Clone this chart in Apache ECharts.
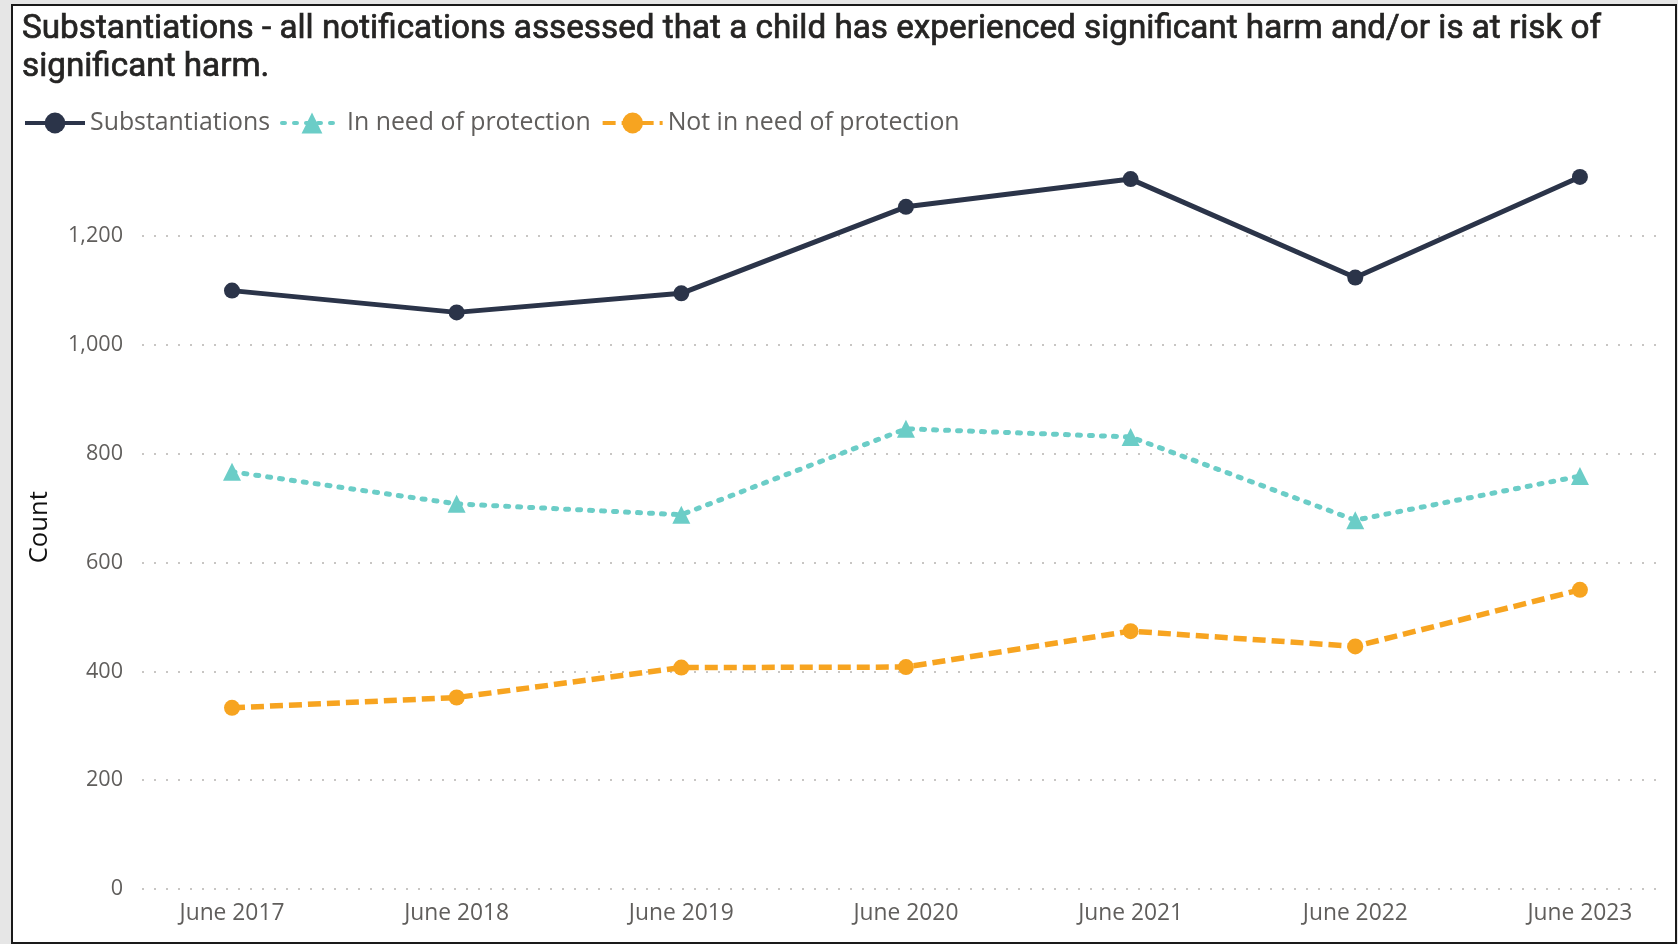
<!DOCTYPE html>
<html><head><meta charset="utf-8">
<script src="https://cdn.jsdelivr.net/npm/echarts@6/dist/echarts.min.js"></script>
<style>
html,body{margin:0;padding:0;background:#e6e6e6;width:1678px;height:944px;overflow:hidden;}
#frame{position:absolute;left:11px;top:4px;width:1662px;height:936px;border:2px solid #1a1a1a;background:#fff;}
#chart{position:absolute;left:0;top:0;width:1678px;height:944px;}
</style></head><body><div id="frame"></div><div id="chart"></div>
<script>
// ---- data ----
const categories = ['June 2017', 'June 2018', 'June 2019', 'June 2020', 'June 2021', 'June 2022', 'June 2023'];
const substantiations = [1100, 1060, 1095, 1254, 1305, 1124, 1309];
const inNeedOfProtection = [767, 708, 688, 846, 831, 678, 759];
const notInNeedOfProtection = [333, 352, 407, 408, 474, 446, 550];
const seriesNames = ['Substantiations', 'In need of protection', 'Not in need of protection'];
const yTickStep = 200;
const titleLines = ['Substantiations - all notifications assessed that a child has experienced significant harm and/or is at risk of', 'significant harm.'];
const yAxisTitle = 'Count';

// ---- text fitting helper ----
const ctx = document.createElement('canvas').getContext('2d');
function fit(text, family, target, weight) {
  ctx.font = (weight || 'normal') + ' 100px ' + family;
  return 100 * target / ctx.measureText(text).width;
}
const TITLE_FONT = 'Roboto';
const UI_FONT = '"Open Sans"';
const titleSize = fit(titleLines[0], TITLE_FONT, 1580);
const legendSize = fit(seriesNames.join(''), UI_FONT, 177 + 245 + 294);
const xLabelSize = fit(categories[0], UI_FONT, 105);
const yLabelSize = fit('1,200', UI_FONT, 55);
const nameSize = fit(yAxisTitle, UI_FONT, 72);

const toPairs = arr => arr.map((v, i) => [i, v]);
const C_NAVY = '#2b3449', C_TEAL = '#6bcdc7', C_ORANGE = '#f7a420';

const chart = echarts.init(document.getElementById('chart'), null, {renderer: 'canvas'});
chart.setOption({
  animation: false,
  backgroundColor: 'transparent',
  title: {
    text: titleLines.join('\n'),
    left: 22, top: 10, padding: 0,
    textStyle: {fontFamily: TITLE_FONT, fontSize: titleSize, fontWeight: 'normal', color: '#252423',
      textBorderColor: '#252423', textBorderWidth: 0.7, lineHeight: 38.5}
  },
  legend: {
    data: seriesNames,
    left: 23, top: 108, padding: 0,
    itemWidth: 60, itemHeight: 26, itemGap: 10,
    lineStyle: {width: 4},
    textStyle: {fontFamily: UI_FONT, fontSize: legendSize, color: '#605e5c', lineHeight: 30}
  },
  grid: {left: 142, right: 19, top: 165.5, bottom: 55, containLabel: false},
  xAxis: {
    type: 'value',
    min: -0.4006, max: 6.352,
    axisLine: {show: false}, axisTick: {show: false}, splitLine: {show: false},
    axisLabel: {
      customValues: categories.map((c, i) => i),
      formatter: v => categories[v] || '',
      margin: 13,
      fontFamily: UI_FONT, fontSize: xLabelSize, color: '#605e5c'
    }
  },
  yAxis: {
    type: 'value', min: 0, max: 1330, interval: yTickStep,
    name: yAxisTitle, nameLocation: 'middle', nameGap: 89,
    nameTextStyle: {fontFamily: UI_FONT, fontSize: nameSize, color: '#111111'},
    axisLine: {show: false}, axisTick: {show: false},
    axisLabel: {
      showMaxLabel: false, margin: 19,
      formatter: v => (v % yTickStep === 0 ? v.toLocaleString('en-US') : ''),
      fontFamily: UI_FONT, fontSize: yLabelSize, color: '#605e5c'
    },
    splitLine: {show: true, showMaxLine: false, lineStyle: {color: '#c8c6c4', width: 2, type: [2, 10]}}
  },
  series: [
    {
      name: seriesNames[0], type: 'line', data: toPairs(substantiations),
      symbol: 'circle', symbolSize: 16, color: C_NAVY,
      lineStyle: {width: 5, color: C_NAVY},
      itemStyle: {color: C_NAVY}, z: 3
    },
    {
      name: seriesNames[1], type: 'line', data: toPairs(inNeedOfProtection),
      symbol: 'triangle', symbolSize: 18, color: C_TEAL,
      lineStyle: {width: 5, color: C_TEAL, type: [3, 9], cap: 'round'},
      itemStyle: {color: C_TEAL}, z: 2
    },
    {
      name: seriesNames[2], type: 'line', data: toPairs(notInNeedOfProtection),
      symbol: 'circle', symbolSize: 16, color: C_ORANGE,
      lineStyle: {width: 5.5, color: C_ORANGE, type: [13, 6]},
      itemStyle: {color: C_ORANGE}, z: 2
    }
  ]
});
</script></body></html>
